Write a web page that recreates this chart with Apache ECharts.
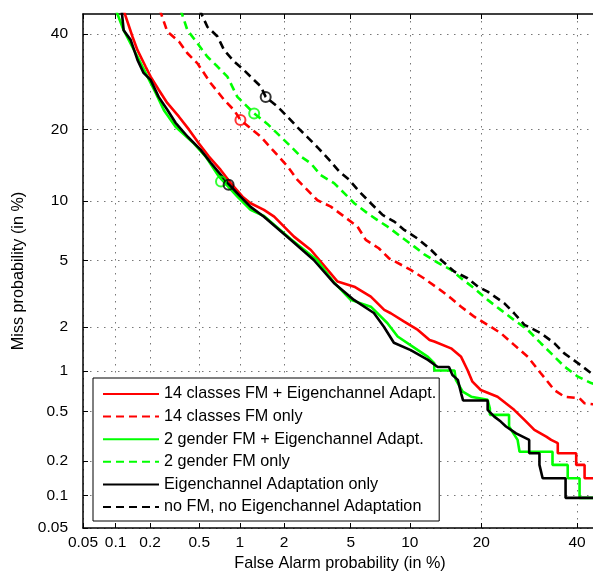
<!DOCTYPE html>
<html>
<head>
<meta charset="utf-8">
<script src="https://cdn.jsdelivr.net/npm/echarts@6/dist/echarts.min.js"></script>
<style>html,body{margin:0;padding:0;background:#fff}#c{width:593px;height:571px}</style>
</head>
<body>
<div id="c"></div>
<script>
// ---- Data (percent) ----
const tickPct = [0.05, 0.1, 0.2, 0.5, 1, 2, 5, 10, 20, 40];
const tickLabels = ['0.05', '0.1', '0.2', '0.5', '1', '2', '5', '10', '20', '40'];
const axisMinPct = 0.05;
const axisMaxPct = 44.8;

const seriesNames = [
  '14 classes FM + Eigenchannel Adapt.',
  '14 classes FM only',
  '2 gender FM + Eigenchannel Adapt.',
  '2 gender FM only',
  'Eigenchannel Adaptation only',
  'no FM, no Eigenchannel Adaptation'
];

// 14 classes FM + Eigenchannel Adapt. (red solid)
const redSolidFA = [0.117, 0.141, 0.156, 0.183, 0.202, 0.237, 0.278, 0.346, 0.416, 0.497, 0.593, 0.726, 0.86, 1.045, 1.19, 1.47, 1.72, 2.31, 2.94, 3.70, 4.22, 5.23, 6.41, 7.51, 8.1, 9.41, 10.9, 12.3, 12.9, 15.2, 16.7, 17.7, 18.5, 19.9, 22.9, 26.1, 28.2, 30.3, 32.9, 34.0, 35.5, 35.5, 39.8, 39.8, 41.8, 41.8, 46];
const redSolidMiss = [46, 39.4, 36.2, 32.5, 30.3, 27.5, 24.9, 22.3, 20.0, 17.7, 15.7, 13.8, 12.1, 10.5, 9.78, 9.09, 8.44, 6.69, 5.69, 4.42, 3.79, 3.54, 3.09, 2.56, 2.44, 2.16, 1.91, 1.64, 1.60, 1.44, 1.26, 1.02, 0.84, 0.73, 0.651, 0.517, 0.432, 0.36, 0.318, 0.299, 0.281, 0.232, 0.232, 0.185, 0.185, 0.142, 0.142];

// 14 classes FM only (red dashed)
const redDashFA = [0.24, 0.278, 0.346, 0.404, 0.484, 0.612, 0.77, 0.91, 1.01, 1.40, 1.68, 2.10, 2.43, 3.22, 3.86, 4.60, 5.45, 6.03, 7.05, 7.93, 10.1, 11.6, 13.4, 15.2, 16.7, 18.8, 21.1, 23.5, 26.1, 28.9, 31.7, 34.7, 37.0, 40.6, 41.8, 46];
const redDashMiss = [46, 40.6, 38.2, 35.5, 33.2, 28.9, 25.5, 23.5, 21.7, 18.8, 16.7, 14.3, 12.5, 10.1, 9.43, 8.44, 7.52, 6.43, 5.81, 5.13, 4.42, 3.96, 3.46, 3.02, 2.68, 2.32, 2.06, 1.82, 1.52, 1.26, 0.967, 0.73, 0.651, 0.633, 0.58, 0.56];

// 2 gender FM + Eigenchannel Adapt. (green solid)
const greenSolidFA = [0.10, 0.118, 0.156, 0.19, 0.223, 0.261, 0.325, 0.455, 0.56, 0.706, 0.96, 1.19, 1.47, 2.2, 3.2, 4.05, 5.0, 6.41, 7.8, 8.75, 10.9, 12.1, 12.9, 12.9, 15.7, 15.9, 16.95, 18.3, 21.1, 21.5, 21.5, 25.1, 25.1, 26.8, 27.2, 34.3, 34.3, 37.8, 37.8, 40.6, 40.6, 46];
const greenSolidMiss = [46, 40.9, 34.7, 30.3, 26.9, 23.5, 20.5, 17.7, 15.7, 12.9, 10.5, 9.09, 8.5, 6.5, 5.02, 3.72, 2.95, 2.68, 2.11, 1.73, 1.40, 1.26, 1.14, 1.01, 1.01, 0.866, 0.71, 0.651, 0.616, 0.53, 0.473, 0.473, 0.383, 0.299, 0.239, 0.239, 0.185, 0.185, 0.142, 0.142, 0.095, 0.095];

// 2 gender FM only (green dashed)
const greenDashFA = [0.355, 0.404, 0.484, 0.577, 0.687, 0.813, 0.96, 1.26, 1.55, 1.90, 2.21, 2.55, 2.94, 3.37, 4.03, 4.60, 5.23, 6.17, 6.94, 7.81, 9.07, 10.5, 11.6, 13.4, 15.2, 16.7, 18.8, 21.1, 23.5, 26.1, 28.9, 31.7, 34.0, 37.0, 40.2, 43.4, 46];
const greenDashMiss = [46, 40.9, 37.8, 34.7, 32.5, 30.3, 26.1, 22.9, 21.0, 18.8, 17.2, 15.7, 14.7, 13.1, 12.1, 10.9, 9.78, 8.75, 8.11, 7.52, 6.69, 5.93, 5.41, 4.84, 4.42, 3.96, 3.46, 2.95, 2.56, 2.21, 1.91, 1.56, 1.33, 1.08, 0.914, 0.82, 0.78];

// Eigenchannel Adaptation only (black solid)
const blackSolidFA = [0.113, 0.118, 0.136, 0.156, 0.176, 0.202, 0.236, 0.280, 0.325, 0.406, 0.513, 0.612, 0.818, 1.01, 1.19, 1.47, 2.21, 3.06, 4.02, 5.21, 6.65, 7.48, 8.39, 10.1, 12.1, 13.35, 14.9, 15.4, 16.2, 16.7, 17.0, 21.1, 21.1, 22.3, 23.5, 24.5, 26.5, 29.2, 29.2, 31.4, 31.4, 32.1, 37.3, 37.3, 46];
const blackSolidMiss = [46, 40.9, 38.6, 34.0, 31.1, 29.6, 26.1, 23.5, 21.2, 18.8, 16.7, 14.8, 12.1, 10.5, 9.40, 8.42, 6.43, 5.02, 3.72, 2.95, 2.45, 2.00, 1.57, 1.40, 1.20, 1.07, 1.07, 0.94, 0.866, 0.69, 0.61, 0.61, 0.517, 0.458, 0.419, 0.383, 0.338, 0.299, 0.232, 0.232, 0.185, 0.142, 0.142, 0.095, 0.095];

// no FM, no Eigenchannel Adaptation (black dashed)
const blackDashFA = [0.50, 0.577, 0.687, 0.77, 0.91, 1.07, 1.19, 1.40, 1.51, 1.81, 2.10, 2.43, 2.81, 3.28, 3.78, 4.31, 4.91, 5.56, 6.41, 7.37, 8.43, 9.41, 10.9, 12.5, 13.8, 15.7, 17.7, 19.4, 21.1, 24.2, 26.1, 28.2, 31.7, 34.7, 37.0, 40.2, 43.4, 46];
const blackDashMiss = [46, 41.7, 39.4, 36.2, 33.6, 31.7, 30.3, 28.2, 26.1, 24.2, 22.3, 20.4, 18.7, 16.9, 15.2, 13.6, 12.5, 11.1, 9.78, 8.6, 7.97, 7.24, 6.52, 5.69, 5.02, 4.32, 3.96, 3.54, 3.31, 2.81, 2.44, 2.06, 1.82, 1.56, 1.33, 1.14, 0.967, 0.93];

// operating-point circles [FA, Miss]
const circleRedDash = [1.01, 21.7];
const circleGreenDash = [1.26, 22.9];
const circleBlackDash = [1.51, 26.1];
const circleGreenSolid = [0.73, 12.3];
const circleBlackSolid = [0.83, 11.9];

// ---- normal deviate (probit) transform ----
function probit(p) {
  const a=[-3.969683028665376e+01,2.209460984245205e+02,-2.759285104469687e+02,1.383577518672690e+02,-3.066479806614716e+01,2.506628277459239e+00];
  const b=[-5.447609879822406e+01,1.615858368580409e+02,-1.556989798598866e+02,6.680131188771972e+01,-1.328068155288572e+01];
  const c=[-7.784894002430293e-03,-3.223964580411365e-01,-2.400758277161838e+00,-2.549732539343734e+00,4.374664141464968e+00,2.938163982698783e+00];
  const d=[7.784695709041462e-03,3.224671290700398e-01,2.445134137142996e+00,3.754408661907416e+00];
  const plow=0.02425, phigh=1-plow;
  let q, r;
  if (p < plow) { q=Math.sqrt(-2*Math.log(p)); return (((((c[0]*q+c[1])*q+c[2])*q+c[3])*q+c[4])*q+c[5])/((((d[0]*q+d[1])*q+d[2])*q+d[3])*q+1); }
  if (p <= phigh) { q=p-0.5; r=q*q; return (((((a[0]*r+a[1])*r+a[2])*r+a[3])*r+a[4])*r+a[5])*q/(((((b[0]*r+b[1])*r+b[2])*r+b[3])*r+b[4])*r+1); }
  q=Math.sqrt(-2*Math.log(1-p)); return -(((((c[0]*q+c[1])*q+c[2])*q+c[3])*q+c[4])*q+c[5])/((((d[0]*q+d[1])*q+d[2])*q+d[3])*q+1);
}
const tr = v => probit(v / 100);
const pairs = (xs, ys) => xs.map((x, i) => [tr(x), tr(ys[i])]);

const tickVals = tickPct.map(tr);
const fmt = v => {
  let best = 0, bd = Infinity;
  tickVals.forEach((t, i) => { const d = Math.abs(t - v); if (d < bd) { bd = d; best = i; } });
  return tickLabels[best];
};

const FONT = "'Liberation Sans', Arial, sans-serif";
const RED = '#ff0000', GREEN = '#00ff00', BLACK = '#000000';
const DASH = [8, 5];

function lineSeries(name, xs, ys, color, dashed) {
  return {
    name, type: 'line', data: pairs(xs, ys), symbol: 'none', clip: true,
    lineStyle: { color, width: 2.6, type: dashed ? DASH : 'solid' },
    itemStyle: { color }, z: 3
  };
}
function circleSeries(pt, color) {
  return {
    type: 'scatter', data: [[tr(pt[0]), tr(pt[1])]], symbol: 'circle', symbolSize: 10,
    itemStyle: { color: 'rgba(255,255,255,0)', borderColor: color, borderWidth: 2 }, z: 4, silent: true
  };
}

const axisCommon = {
  type: 'value', min: tr(axisMinPct), max: tr(axisMaxPct),
  axisLine: { show: true, onZero: false, lineStyle: { color: '#000', width: 1.5 } },
  axisTick: { show: true, inside: true, length: 5, customValues: tickVals, lineStyle: { color: '#000', width: 1 } },
  axisLabel: { customValues: tickVals, formatter: fmt, color: '#000', fontSize: 15.5, fontFamily: FONT },
  splitLine: { show: true, lineStyle: { color: '#777', width: 1, type: [1.5, 5.5] } }
};

const chart = echarts.init(document.getElementById('c'), null, { renderer: 'canvas' });
chart.setOption({
  animation: false,
  backgroundColor: '#fff',
  grid: { left: 83, top: 14, width: 514, height: 514, containLabel: false, outerBoundsMode: 'none' },
  xAxis: [
    Object.assign({}, axisCommon, {
      position: 'bottom',
      axisLabel: Object.assign({}, axisCommon.axisLabel, { margin: 7 }),
      name: 'False Alarm probability (in %)', nameLocation: 'middle', nameGap: 24,
      nameTextStyle: { color: '#000', fontSize: 16.2, fontFamily: FONT }
    }),
    Object.assign({}, axisCommon, {
      position: 'top', axisLabel: { show: false }, splitLine: { show: false }
    })
  ],
  yAxis: [
    Object.assign({}, axisCommon, {
      position: 'left',
      axisLabel: Object.assign({}, axisCommon.axisLabel, { margin: 15 }),
      name: 'Miss probability (in %)', nameLocation: 'middle', nameGap: 55,
      nameTextStyle: { color: '#000', fontSize: 16.2, fontFamily: FONT }
    })
  ],
  legend: {
    orient: 'vertical', left: 93, top: 378,
    data: seriesNames,
    itemWidth: 56, itemHeight: 14, itemGap: 6.6,
    padding: [8, 3, 6, 9],
    itemStyle: { opacity: 0 },
    backgroundColor: '#fff', borderColor: '#000', borderWidth: 1,
    textStyle: { color: '#000', fontSize: 16.2, fontFamily: FONT, lineHeight: 14 },
    selectedMode: false
  },
  series: [
    lineSeries(seriesNames[0], redSolidFA, redSolidMiss, RED, false),
    lineSeries(seriesNames[1], redDashFA, redDashMiss, RED, true),
    lineSeries(seriesNames[2], greenSolidFA, greenSolidMiss, GREEN, false),
    lineSeries(seriesNames[3], greenDashFA, greenDashMiss, GREEN, true),
    lineSeries(seriesNames[4], blackSolidFA, blackSolidMiss, BLACK, false),
    lineSeries(seriesNames[5], blackDashFA, blackDashMiss, BLACK, true),
    circleSeries(circleRedDash, RED),
    circleSeries(circleGreenDash, GREEN),
    circleSeries(circleBlackDash, BLACK),
    circleSeries(circleGreenSolid, GREEN),
    circleSeries(circleBlackSolid, BLACK)
  ]
});
</script>
</body>
</html>
